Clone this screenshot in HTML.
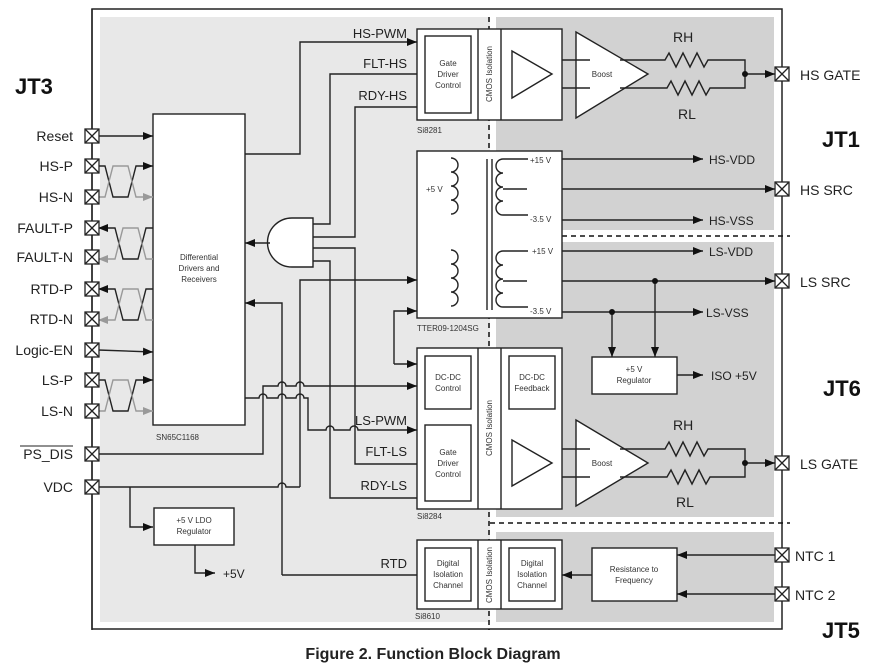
<!DOCTYPE html>
<html><head><meta charset="utf-8"><style>
body{margin:0;background:#fff;}
svg{display:block;font-family:"Liberation Sans",Arial,sans-serif;}
</style></head><body>
<svg width="888" height="672" viewBox="0 0 888 672" xmlns="http://www.w3.org/2000/svg">
<defs>
<marker id="a" markerWidth="10" markerHeight="8" refX="10" refY="4" orient="auto" markerUnits="userSpaceOnUse"><path d="M0,0L10,4L0,8z" fill="#111"/></marker>
<marker id="g" markerWidth="10" markerHeight="8" refX="10" refY="4" orient="auto" markerUnits="userSpaceOnUse"><path d="M0,0L10,4L0,8z" fill="#999"/></marker>
<g id="c"><rect x="-7" y="-7" width="14" height="14"/><path d="M-7,-7L7,7M7,-7L-7,7"/></g>
</defs>
<rect x="92" y="9" width="690" height="620" fill="#fff" stroke="#222" stroke-width="1.5"/>
<rect x="100" y="17" width="390" height="605" fill="#e8e8e8"/>
<rect x="496" y="17" width="278" height="213" fill="#d2d2d2"/>
<rect x="496" y="242" width="278" height="275" fill="#d2d2d2"/>
<rect x="496" y="532" width="278" height="90" fill="#d2d2d2"/>
<line x1="489" y1="17" x2="489" y2="630" stroke="#111" stroke-width="1.5" stroke-dasharray="5,4"/>
<line x1="490" y1="236" x2="790" y2="236" stroke="#111" stroke-width="1.5" stroke-dasharray="5,4"/>
<line x1="490" y1="523" x2="790" y2="523" stroke="#111" stroke-width="1.5" stroke-dasharray="5,4"/>

<g fill="none" stroke="#222" stroke-width="1.4">
<rect x="417" y="29" width="145" height="91" fill="#fff"/>
<rect x="425" y="36" width="46" height="77"/>
<line x1="478" y1="29" x2="478" y2="120"/><line x1="501" y1="29" x2="501" y2="120"/>
<path d="M512,51L552,74L512,98z"/>
<path d="M576,32L648,74L576,118z" fill="#fff"/>
<path d="M562,60H590M562,88H590"/>
<path d="M620,60H665l4,-7l7,14l7,-14l7,14l7,-14l7,14l4,-7H745V88H710l-4,7l-7,-14l-7,14l-7,-14l-7,14l-7,-14l-4,7H620"/>
<line x1="745" y1="74" x2="775" y2="74" marker-end="url(#a)"/>
<rect x="417" y="151" width="145" height="167" fill="#fff"/>
<path d="M451,158a7,7 0 0 1 0,14a7,7 0 0 1 0,14a7,7 0 0 1 0,14a7,7 0 0 1 0,14"/>
<path d="M451,250a7,7 0 0 1 0,14a7,7 0 0 1 0,14a7,7 0 0 1 0,14a7,7 0 0 1 0,14"/>
<path d="M528,159H503a7,7 0 0 0 0,14a7,7 0 0 0 0,14a7,7 0 0 0 0,14a7,7 0 0 0 0,14H528M503,189H527"/>
<path d="M528,251H503a7,7 0 0 0 0,14a7,7 0 0 0 0,14a7,7 0 0 0 0,14a7,7 0 0 0 0,14H528M503,281H527"/>
<line x1="487" y1="159" x2="487" y2="310"/><line x1="492" y1="159" x2="492" y2="310"/>
<g marker-end="url(#a)">
<line x1="562" y1="159" x2="703" y2="159"/><line x1="562" y1="189" x2="775" y2="189"/>
<line x1="562" y1="220" x2="703" y2="220"/><line x1="562" y1="251" x2="703" y2="251"/>
<line x1="562" y1="281" x2="775" y2="281"/><line x1="562" y1="312" x2="703" y2="312"/>
<line x1="655" y1="281" x2="655" y2="357"/><line x1="612" y1="312" x2="612" y2="357"/>
<line x1="677" y1="375" x2="703" y2="375"/>
</g>
<rect x="592" y="357" width="85" height="37" fill="#fff"/>
<rect x="417" y="348" width="145" height="161" fill="#fff"/>
<rect x="425" y="356" width="46" height="53"/><rect x="425" y="425" width="46" height="76"/>
<line x1="478" y1="348" x2="478" y2="509"/><line x1="501" y1="348" x2="501" y2="509"/>
<rect x="509" y="356" width="46" height="53"/>
<path d="M512,440L552,463L512,486z"/>
<path d="M576,420L648,463L576,506z" fill="#fff"/>
<path d="M562,449H590M562,477H590"/>
<path d="M620,449H665l4,-7l7,14l7,-14l7,14l7,-14l7,14l4,-7H745V477H710l-4,7l-7,-14l-7,14l-7,-14l-7,14l-7,-14l-4,7H620"/>
<line x1="745" y1="463" x2="775" y2="463" marker-end="url(#a)"/>
<rect x="417" y="540" width="145" height="69" fill="#fff"/>
<rect x="425" y="548" width="46" height="53"/><rect x="509" y="548" width="46" height="53"/>
<line x1="478" y1="540" x2="478" y2="609"/><line x1="501" y1="540" x2="501" y2="609"/>
<rect x="592" y="548" width="85" height="53" fill="#fff"/>
<g marker-end="url(#a)">
<line x1="592" y1="575" x2="562" y2="575"/>
<line x1="775" y1="555" x2="677" y2="555"/><line x1="775" y1="594" x2="677" y2="594"/>
</g>
<line x1="92" y1="9" x2="92" y2="630"/>
<rect x="153" y="114" width="92" height="311" fill="#fff"/>
<path d="M292,218H313V267H292A24.5,24.5 0 0 1 292,218z" fill="#fff"/>
<g marker-end="url(#a)">
<line x1="98" y1="136" x2="153" y2="136"/>
<line x1="98" y1="350" x2="153" y2="352"/>
<line x1="270" y1="243" x2="245" y2="243"/>
<path d="M245,154H300V42H417"/>
<path d="M282,575V303H245"/>
<path d="M300,487V280H417"/>
<path d="M394,364V311H417"/>
<path d="M394,364H417"/>
<path d="M98,454H263V386H278a4,4 0 0 1 8,0H296a4,4 0 0 1 8,0H417"/>
<path d="M245,398H259a4,4 0 0 1 8,0H278a4,4 0 0 1 8,0H296a4,4 0 0 1 8,0H308V430H326a4,4 0 0 1 8,0H350a4,4 0 0 1 8,0H417"/>
<path d="M130,487V527H153"/>
<path d="M195,545V573H215"/>
<path d="M98,166H105L113,197H128L136,166H153"/>
<path d="M98,380H105L113,411H128L136,380H153"/>
<path d="M153,228H146L138,259H123L115,228H98"/>
<path d="M153,289H146L138,320H123L115,289H98"/>
</g>
<g stroke="#999" marker-end="url(#g)">
<path d="M98,197H105L113,166H128L136,197H153"/>
<path d="M98,411H105L113,380H128L136,411H153"/>
<path d="M153,259H146L138,228H123L115,259H98"/>
<path d="M153,320H146L138,289H123L115,320H98"/>
</g>
<path d="M417,74H330V224H313M417,107H355V237H313M313,248H355V464H417M313,261H330V498H417M282,575H417"/>
<path d="M98,487H278a4,4 0 0 1 8,0H300"/>
<rect x="154" y="508" width="80" height="37" fill="#fff"/>
</g>
<g fill="#111"><circle cx="745" cy="74" r="3"/><circle cx="745" cy="463" r="3"/><circle cx="655" cy="281" r="3"/><circle cx="612" cy="312" r="3"/></g>
<g fill="#fff" stroke="#222" stroke-width="1.3">
<use href="#c" x="92" y="136"/><use href="#c" x="92" y="166"/><use href="#c" x="92" y="197"/><use href="#c" x="92" y="228"/><use href="#c" x="92" y="257"/><use href="#c" x="92" y="289"/><use href="#c" x="92" y="319"/><use href="#c" x="92" y="350"/><use href="#c" x="92" y="380"/><use href="#c" x="92" y="411"/><use href="#c" x="92" y="454"/><use href="#c" x="92" y="487"/>
<use href="#c" x="782" y="74"/><use href="#c" x="782" y="189"/><use href="#c" x="782" y="281"/><use href="#c" x="782" y="463"/><use href="#c" x="782" y="555"/><use href="#c" x="782" y="594"/>
</g>
<g font-size="14" fill="#222" text-anchor="end">
<text x="73" y="141">Reset</text><text x="73" y="171">HS-P</text><text x="73" y="202">HS-N</text><text x="73" y="233">FAULT-P</text><text x="73" y="262">FAULT-N</text><text x="73" y="294">RTD-P</text><text x="73" y="324">RTD-N</text><text x="73" y="355">Logic-EN</text><text x="73" y="385">LS-P</text><text x="73" y="416">LS-N</text><text x="73" y="459">PS_DIS</text><text x="73" y="492">VDC</text>
</g>
<line x1="20" y1="446" x2="73" y2="446" stroke="#222"/>
<g font-size="13" fill="#222" text-anchor="end">
<text x="407" y="38">HS-PWM</text><text x="407" y="68">FLT-HS</text><text x="407" y="100">RDY-HS</text>
<text x="407" y="425">LS-PWM</text><text x="407" y="456">FLT-LS</text><text x="407" y="490">RDY-LS</text><text x="407" y="568">RTD</text>
</g>
<g font-size="14" fill="#222">
<text x="800" y="80">HS GATE</text><text x="800" y="195">HS SRC</text><text x="800" y="287">LS SRC</text><text x="800" y="469">LS GATE</text><text x="795" y="561">NTC 1</text><text x="795" y="600">NTC 2</text>
<text x="673" y="42">RH</text><text x="678" y="119">RL</text><text x="673" y="430">RH</text><text x="676" y="507">RL</text>
</g>
<g font-size="12" fill="#222">
<text x="709" y="164">HS-VDD</text><text x="709" y="225">HS-VSS</text><text x="709" y="256">LS-VDD</text><text x="706" y="317">LS-VSS</text><text x="711" y="380">ISO +5V</text><text x="223" y="578">+5V</text>
</g>
<g font-weight="bold" font-size="22" fill="#111">
<text x="15" y="94">JT3</text><text x="822" y="147">JT1</text><text x="823" y="396">JT6</text><text x="822" y="638">JT5</text>
</g>
<g font-size="8" fill="#333" text-anchor="middle">
<text x="448" y="66">Gate</text><text x="448" y="77">Driver</text><text x="448" y="88">Control</text>
<text x="199" y="260">Differential</text><text x="199" y="271">Drivers and</text><text x="199" y="282">Receivers</text>
<text x="602" y="77">Boost</text><text x="602" y="466">Boost</text>
<text x="448" y="380">DC-DC</text><text x="448" y="391">Control</text>
<text x="532" y="380">DC-DC</text><text x="532" y="391">Feedback</text>
<text x="448" y="455">Gate</text><text x="448" y="466">Driver</text><text x="448" y="477">Control</text>
<text x="634" y="372">+5 V</text><text x="634" y="383">Regulator</text>
<text x="448" y="566">Digital</text><text x="448" y="577">Isolation</text><text x="448" y="588">Channel</text>
<text x="532" y="566">Digital</text><text x="532" y="577">Isolation</text><text x="532" y="588">Channel</text>
<text x="634" y="572">Resistance to</text><text x="634" y="583">Frequency</text>
<text x="194" y="523">+5 V LDO</text><text x="194" y="534">Regulator</text>
</g>
<g font-size="8" fill="#333">
<text x="417" y="133">Si8281</text><text x="417" y="331">TTER09-1204SG</text><text x="417" y="519">Si8284</text><text x="415" y="619">Si8610</text><text x="156" y="440">SN65C1168</text>
<text x="426" y="192">+5 V</text><text x="530" y="163">+15 V</text><text x="530" y="222">-3.5 V</text><text x="532" y="254">+15 V</text><text x="530" y="314">-3.5 V</text>
</g>
<g font-size="8" fill="#333" text-anchor="middle">
<text transform="translate(492,74) rotate(-90)">CMOS Isolation</text>
<text transform="translate(492,428) rotate(-90)">CMOS Isolation</text>
<text transform="translate(492,575) rotate(-90)">CMOS Isolation</text>
</g>
<text x="433" y="659" font-size="16" font-weight="bold" fill="#222" text-anchor="middle">Figure 2. Function Block Diagram</text>
</svg>
</body></html>
